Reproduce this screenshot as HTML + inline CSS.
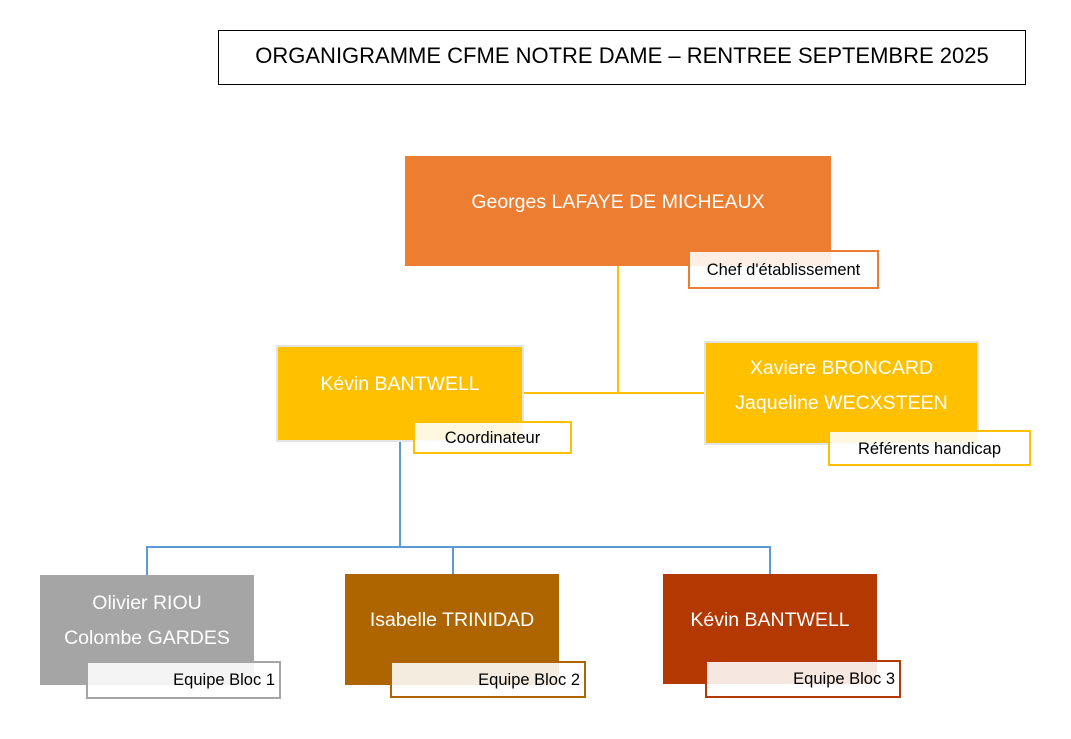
<!DOCTYPE html>
<html><head><meta charset="utf-8"><style>
body{margin:0;width:1071px;height:739px;background:#fff;position:relative;overflow:hidden;font-family:"Liberation Sans",sans-serif}
.a{position:absolute;box-sizing:border-box}
.box{color:#fff;font-size:19.5px;text-align:center;line-height:35px}
.lab{font-size:16.5px;color:#000;background:rgba(255,255,255,0.88);border:2px solid;line-height:30px;white-space:nowrap}
.ln{position:absolute;background:#FFC000}
.bl{position:absolute;background:#5B9BD5}
</style></head><body>
<div class="a" style="left:218px;top:30px;width:808px;height:55px;border:1px solid #000;font-size:22px;text-align:center;line-height:50px">ORGANIGRAMME CFME NOTRE DAME – RENTREE SEPTEMBRE 2025</div>

<div class="ln" style="left:617px;top:266px;width:2px;height:128px"></div>
<div class="ln" style="left:523px;top:392px;width:182px;height:2px"></div>
<div class="bl" style="left:399px;top:440px;width:2px;height:108px"></div>
<div class="bl" style="left:146px;top:546px;width:625px;height:2px"></div>
<div class="bl" style="left:146px;top:546px;width:2px;height:29px"></div>
<div class="bl" style="left:452px;top:546px;width:2px;height:28px"></div>
<div class="bl" style="left:769px;top:546px;width:2px;height:28px"></div>

<div class="a box" style="left:405px;top:156px;width:426px;height:110px;background:#ED7D31;padding-top:29px">Georges LAFAYE DE MICHEAUX</div>
<div class="a lab" style="left:688px;top:250px;width:191px;height:39px;border-color:#ED7D31;text-align:center;line-height:36px">Chef d'établissement</div>

<div class="a box" style="left:276px;top:345px;width:248px;height:97px;background:#FFC000;border:2px solid #e4e4e4;padding-top:20px">Kévin BANTWELL</div>
<div class="a lab" style="left:413px;top:421px;width:159px;height:33px;border-color:#FFC000;text-align:center">Coordinateur</div>

<div class="a box" style="left:704px;top:341px;width:275px;height:104px;background:#FFC000;border:2px solid #e4e4e4;padding-top:8px">Xaviere BRONCARD<br>Jaqueline WECXSTEEN</div>
<div class="a lab" style="left:828px;top:430px;width:203px;height:36px;border-color:#FFC000;text-align:center;line-height:34px">Référents handicap</div>

<div class="a box" style="left:40px;top:575px;width:214px;height:110px;background:#A5A5A5;padding-top:11px">Olivier RIOU<br>Colombe GARDES</div>
<div class="a lab" style="left:86px;top:661px;width:195px;height:38px;border-color:#A5A5A5;text-align:right;padding-right:4px;line-height:35px">Equipe Bloc 1</div>

<div class="a box" style="left:345px;top:574px;width:214px;height:111px;background:#AE6500;padding-top:29px">Isabelle TRINIDAD</div>
<div class="a lab" style="left:390px;top:661px;width:196px;height:37px;border-color:#AE6500;text-align:right;padding-right:4px;line-height:34px">Equipe Bloc 2</div>

<div class="a box" style="left:663px;top:574px;width:214px;height:110px;background:#B43802;padding-top:29px">Kévin BANTWELL</div>
<div class="a lab" style="left:705px;top:660px;width:196px;height:38px;border-color:#B43802;text-align:right;padding-right:4px;line-height:35px">Equipe Bloc 3</div>
</body></html>
